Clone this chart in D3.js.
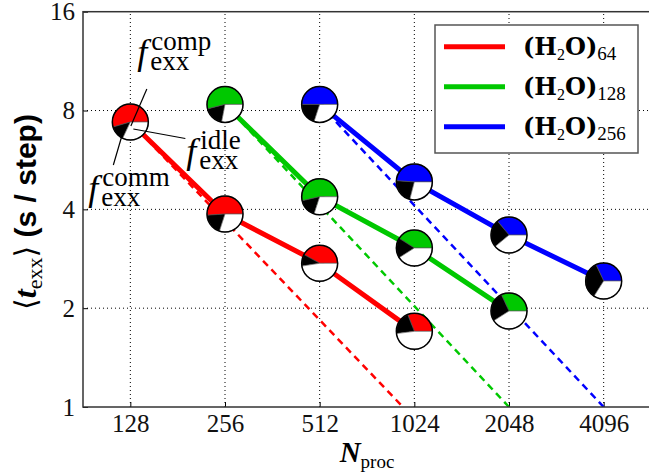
<!DOCTYPE html>
<html>
<head>
<meta charset="utf-8">
<script src="https://cdn.jsdelivr.net/npm/d3@7"></script>
<style>
  body { margin: 0; background: #fff; }
  svg { display: block; }
</style>
</head>
<body>
<div id="chart"></div>
<script>
// values
const nProc = [128, 256, 512, 1024, 2048, 4096]
const yTicks = [1, 2, 4, 8, 16]
const systems = ['64', '128', '256']
const colors = ['#ff0000', '#00c800', '#0000ff']

const nProc64 = [128, 256, 512, 1024]
const nProc128 = [256, 512, 1024, 2048]
const nProc256 = [512, 1024, 2048, 4096]
const tExx64 = [7.38, 3.87, 2.74, 1.70]
const tExx128 = [8.35, 4.37, 3.05, 1.96]
const tExx256 = [8.35, 4.85, 3.34, 2.42]

// pie fractions: comp / comm / idle
const fComp64 = [0.545, 0.51, 0.42, 0.31]
const fComm64 = [0.135, 0.19, 0.105, 0.21]
const fIdle64 = [0.32, 0.30, 0.475, 0.48]
const fComp128 = [0.54, 0.536, 0.41, 0.32]
const fComm128 = [0.18, 0.164, 0.18, 0.27]
const fIdle128 = [0.28, 0.30, 0.41, 0.41]
const fComp256 = [0.50, 0.49, 0.36, 0.32]
const fComm256 = [0.20, 0.22, 0.25, 0.34]
const fIdle256 = [0.30, 0.29, 0.39, 0.34]

// ideal scaling (dashed), first and last N of each series
const ideal64 = [7.38, 0.92]
const ideal128 = [8.35, 1.0]
const ideal256 = [8.35, 1.0]

const series = [
  { n: nProc64, t: tExx64, comp: fComp64, comm: fComm64, idle: fIdle64, ideal: ideal64 },
  { n: nProc128, t: tExx128, comp: fComp128, comm: fComm128, idle: fIdle128, ideal: ideal128 },
  { n: nProc256, t: tExx256, comp: fComp256, comm: fComm256, idle: fIdle256, ideal: ideal256 }
]

const W = 649, H = 474
const margin = { left: 83, right: -2, top: 11.7, bottom: 67 }
const serif = "'Liberation Serif', 'DejaVu Serif', serif"

const svg = d3.select('#chart').append('svg').attr('width', W).attr('height', H)

let x = d3.scaleLog().base(2).domain([128 / Math.SQRT2, 4096 * Math.SQRT2])
  .range([margin.left, W - margin.right])
let y = d3.scaleLog().base(2).domain([1, 16])
  .range([H - margin.bottom, margin.top])

svg.append('defs').append('clipPath').attr('id', 'plot-clip')
  .append('rect').attr('x', margin.left).attr('y', margin.top)
  .attr('width', W - margin.right - margin.left)
  .attr('height', H - margin.bottom - margin.top)

// grid
let grid = svg.append('g').attr('stroke', '#000').attr('stroke-width', 1)
  .attr('stroke-dasharray', '1,3')
grid.selectAll('line.v').data(nProc).enter().append('line').classed('v', true)
  .attr('x1', d => x(d)).attr('x2', d => x(d))
  .attr('y1', y(1)).attr('y2', y(16))
grid.selectAll('line.h').data([2, 4, 8]).enter().append('line').classed('h', true)
  .attr('x1', x.range()[0]).attr('x2', x.range()[1])
  .attr('y1', d => y(d)).attr('y2', d => y(d))

// axes
let xAxis = d3.axisBottom(x).tickValues(nProc).tickFormat(d => d)
  .tickSizeInner(-5).tickSizeOuter(0).tickPadding(7)
let xAxisDom = svg.append('g').attr('transform', `translate(0, ${y(1)})`).call(xAxis)
let yAxis = d3.axisLeft(y).tickValues(yTicks).tickFormat(d => d)
  .tickSizeInner(-5).tickSizeOuter(0).tickPadding(8)
let yAxisDom = svg.append('g').attr('transform', `translate(${margin.left}, 0)`).call(yAxis)
;[xAxisDom, yAxisDom].forEach(g => {
  g.select('.domain').remove()
  g.selectAll('text').attr('font-family', serif).attr('font-size', 25).attr('fill', '#111')
  g.selectAll('line').attr('stroke', '#000').attr('stroke-width', 1)
})

let plot = svg.append('g').attr('clip-path', 'url(#plot-clip)')

// dashed ideal lines
series.forEach((s, i) => {
  let nn = [s.n[0], s.n[s.n.length - 1]]
  let line = d3.line().x((d, k) => x(nn[k])).y(d => y(d))
  plot.append('path').attr('d', line(s.ideal))
    .attr('fill', 'none').attr('stroke', colors[i])
    .attr('stroke-width', 2.5).attr('stroke-dasharray', '7,5')
})

// solid measured lines
series.forEach((s, i) => {
  let line = d3.line().x((d, k) => x(s.n[k])).y(d => y(d))
  plot.append('path').attr('d', line(s.t))
    .attr('fill', 'none').attr('stroke', colors[i]).attr('stroke-width', 5)
})

// pies: matplotlib style, start at 3 o'clock, counter-clockwise
const R = 18
let pie = d3.pie().sort(null).startAngle(Math.PI / 2).endAngle(Math.PI / 2 - 2 * Math.PI)
let arc = d3.arc().innerRadius(0).outerRadius(R)
series.forEach((s, i) => {
  s.t.forEach((t, k) => {
    let g = svg.append('g').attr('transform', `translate(${x(s.n[k])}, ${y(t)})`)
    let fills = [colors[i], '#000', '#fff']
    g.selectAll('path').data(pie([s.comp[k], s.comm[k], s.idle[k]]))
      .enter().append('path').attr('d', arc)
      .attr('fill', (d, j) => fills[j])
      .attr('stroke', '#555').attr('stroke-width', 0.6)
    g.append('circle').attr('r', R).attr('fill', 'none')
      .attr('stroke', '#000').attr('stroke-width', 1.5)
  })
})

// annotations on the first pie
let cx = x(nProc64[0]), cy = y(tExx64[0])
let ann = svg.append('g')
let leaders = [
  [cx + 16.5, cy - 33, cx + 0.5, cy + 4],
  [cx + 3, cy + 7, cx + 55, cy + 16.5],
  [cx - 8.5, cy + 14, cx - 17, cy + 43]
]
leaders.forEach(l => {
  ann.append('line').attr('x1', l[0]).attr('y1', l[1]).attr('x2', l[2]).attr('y2', l[3])
    .attr('stroke', '#000').attr('stroke-width', 1.2)
})
let fLabel = (fx, fy, sup) => {
  let t = ann.append('text').attr('font-family', serif)
  t.append('tspan').text('f').attr('x', fx).attr('y', fy)
    .attr('font-style', 'italic').attr('font-size', 36)
  t.append('tspan').text(sup).attr('x', fx + 14).attr('y', fy - 14).attr('font-size', 27)
  t.append('tspan').text('exx').attr('x', fx + 13).attr('y', fy + 6).attr('font-size', 27)
}
fLabel(cx + 7, cy - 58, 'comp')
fLabel(cx + 56, cy + 41, 'idle')
fLabel(cx - 42, cy + 78, 'comm')

// legend
let leg = svg.append('g')
leg.append('rect').attr('x', 435).attr('y', 25).attr('width', 203).attr('height', 128)
  .attr('fill', '#fff').attr('stroke', '#555').attr('stroke-width', 1.5)
systems.forEach((name, i) => {
  let ly = 46.7 + i * 40
  leg.append('line').attr('x1', 444).attr('x2', 505).attr('y1', ly).attr('y2', ly)
    .attr('stroke', colors[i]).attr('stroke-width', 5)
  let t = leg.append('text').attr('x', 523).attr('y', ly + 8.5)
    .attr('font-family', "'DejaVu Serif', serif").attr('font-weight', 'bold').attr('font-size', 24)
  t.append('tspan').text('(H')
  t.append('tspan').text('2').attr('font-size', 16).attr('font-weight', 'normal')
    .attr('font-family', serif).attr('dy', 5)
  t.append('tspan').text('O)').attr('dy', -5)
  t.append('tspan').text(name).attr('font-size', 19).attr('font-weight', 'normal')
    .attr('font-family', serif).attr('dy', 5)
})

// frame
svg.append('rect').attr('x', margin.left).attr('y', margin.top)
  .attr('width', W - margin.right - margin.left).attr('height', H - margin.bottom - margin.top)
  .attr('fill', 'none').attr('stroke', '#333').attr('stroke-width', 1.5)

// axis titles
let xl = svg.append('text').attr('x', 367).attr('y', 462).attr('text-anchor', 'middle')
  .attr('font-family', serif)
xl.append('tspan').text('N').attr('font-weight', 'bold').attr('font-style', 'italic').attr('font-size', 29)
xl.append('tspan').text('proc').attr('font-size', 19).attr('dy', 6)

let yl = svg.append('text').attr('transform', 'translate(36, 212) rotate(-90)')
  .attr('text-anchor', 'middle').attr('font-size', 30)
yl.append('tspan').text('\u27E8').attr('font-family', "'DejaVu Sans', sans-serif").attr('font-weight', 'normal')
yl.append('tspan').text('t').attr('font-family', serif).attr('font-weight', 'bold').attr('font-style', 'italic').attr('font-size', 32)
yl.append('tspan').text('exx').attr('font-family', serif).attr('font-size', 22).attr('dy', 6)
yl.append('tspan').text('\u27E9').attr('font-family', "'DejaVu Sans', sans-serif").attr('dy', -6)
yl.append('tspan').text(' (s / step)').attr('font-family', "'Liberation Sans', sans-serif").attr('font-weight', 'bold')
</script>
</body>
</html>
